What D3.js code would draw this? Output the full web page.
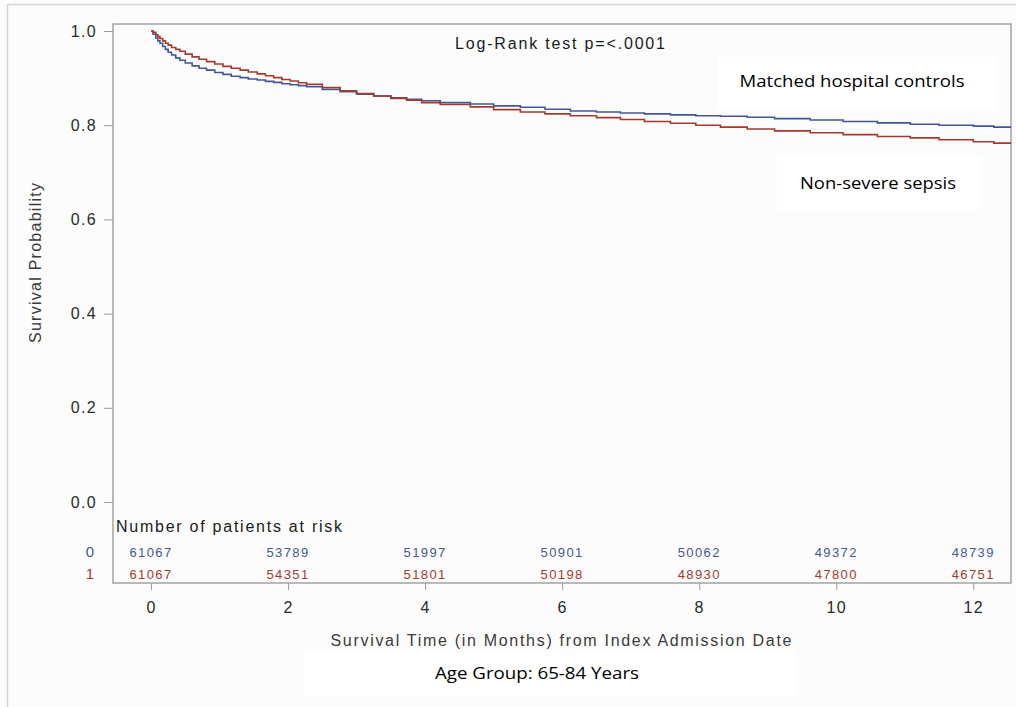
<!DOCTYPE html>
<html>
<head>
<meta charset="utf-8">
<script src="https://cdn.jsdelivr.net/npm/d3@7"></script>
<style>
  html, body { margin: 0; padding: 0; background: #fcfcfc; }
  svg { display: block; }
  text { font-family: "Liberation Sans", Arial, sans-serif; }
  .calibri { font-family: "Open Sans", "Noto Sans", sans-serif; }
</style>
</head>
<body>
<script>
// months since index admission, survival probability
const controlTimes = [0, 0.03, 0.07, 0.1, 0.13, 0.17, 0.21, 0.25, 0.3, 0.36, 0.42, 0.5, 0.6, 0.7, 0.81, 0.93, 1.05, 1.17, 1.3, 1.42, 1.55, 1.67, 1.79, 1.91, 2.03, 2.15, 2.27, 2.5, 2.76, 3.0, 3.25, 3.5, 3.73, 3.95, 4.22, 4.66, 5.0, 5.39, 5.75, 6.12, 6.5, 6.85, 7.2, 7.58, 7.95, 8.31, 8.7, 9.1, 9.62, 10.1, 10.6, 11.08, 11.5, 12.0, 12.3];
const controlSurv = [1.0, 0.993, 0.985, 0.979, 0.974, 0.967, 0.961, 0.955, 0.949, 0.943, 0.938, 0.932, 0.926, 0.921, 0.917, 0.912, 0.908, 0.904, 0.901, 0.898, 0.896, 0.893, 0.891, 0.888, 0.886, 0.884, 0.882, 0.876, 0.871, 0.866, 0.862, 0.858, 0.855, 0.852, 0.848, 0.845, 0.841, 0.838, 0.834, 0.83, 0.828, 0.826, 0.824, 0.822, 0.82, 0.819, 0.817, 0.814, 0.811, 0.808, 0.805, 0.802, 0.8, 0.798, 0.796];
const sepsisTimes = controlTimes;
const sepsisSurv = [1.0, 0.997, 0.992, 0.988, 0.984, 0.979, 0.974, 0.97, 0.965, 0.961, 0.957, 0.951, 0.945, 0.94, 0.935, 0.93, 0.925, 0.921, 0.917, 0.913, 0.909, 0.905, 0.901, 0.897, 0.894, 0.89, 0.887, 0.88, 0.873, 0.867, 0.862, 0.857, 0.853, 0.848, 0.844, 0.839, 0.833, 0.828, 0.824, 0.82, 0.816, 0.812, 0.808, 0.804, 0.8, 0.796, 0.792, 0.788, 0.784, 0.78, 0.776, 0.773, 0.769, 0.765, 0.762];

const xTicks = [0, 2, 4, 6, 8, 10, 12];
const yTicks = [0, 0.2, 0.4, 0.6, 0.8, 1.0];
const atRiskControl = [61067, 53789, 51997, 50901, 50062, 49372, 48739];
const atRiskSepsis = [61067, 54351, 51801, 50198, 48930, 47800, 46751];

const blue = '#445694';
const red = '#a23a2e';

const width = 1016;
const height = 707;
const plot = { left: 113, right: 1011, top: 24, bottom: 583 };

const svg = d3.select('body').append('svg').attr('width', width).attr('height', height);

// outer frame (top + left edges only visible)
svg.append('line').attr('x1', 7.5).attr('x2', width).attr('y1', 4.5).attr('y2', 4.5)
  .attr('stroke', '#d4d4d4').attr('stroke-width', 1.5);
svg.append('line').attr('x1', 7.5).attr('x2', 7.5).attr('y1', 4.5).attr('y2', height)
  .attr('stroke', '#d4d4d4').attr('stroke-width', 1.5);

const x = d3.scaleLinear().domain([-0.555, 12.55]).range([plot.left, plot.right]);
const y = d3.scaleLinear().domain([0, 1]).range([502, 31]);

// white patches behind the pasted annotations
svg.append('rect').attr('x', 718).attr('y', 57).attr('width', 279).attr('height', 53).attr('fill', '#fff');
svg.append('rect').attr('x', 777).attr('y', 157).attr('width', 204).attr('height', 53).attr('fill', '#fff');
svg.append('rect').attr('x', 303).attr('y', 652).attr('width', 492).attr('height', 44).attr('fill', '#fff');

// axes
svg.append('g')
  .attr('transform', `translate(${plot.left},0)`)
  .call(d3.axisLeft(y).tickValues(yTicks).tickSize(9).tickPadding(7).tickFormat(d3.format('.1f')))
  .call(g => g.select('.domain').remove())
  .call(g => g.selectAll('line').attr('stroke', '#9a9a9a'))
  .call(g => g.selectAll('text').attr('font-size', 16).attr('fill', '#2a2a2a')
    .attr('letter-spacing', 1.3).attr('font-family', '"Liberation Sans", Arial, sans-serif'));

svg.append('g')
  .attr('transform', `translate(0,${plot.bottom})`)
  .call(d3.axisBottom(x).tickValues(xTicks).tickSize(7).tickPadding(12).tickFormat(d3.format('d')))
  .call(g => g.select('.domain').remove())
  .call(g => g.selectAll('line').attr('stroke', '#9a9a9a'))
  .call(g => g.selectAll('text').attr('font-size', 16).attr('fill', '#2a2a2a')
    .attr('letter-spacing', 1.3).attr('font-family', '"Liberation Sans", Arial, sans-serif'));

// plot frame
svg.append('rect')
  .attr('x', plot.left).attr('y', plot.top)
  .attr('width', plot.right - plot.left).attr('height', plot.bottom - plot.top)
  .attr('fill', 'none').attr('stroke', '#a8a8a8').attr('stroke-width', 1.6);

// survival curves
const line = d3.line().x(d => x(d[0])).y(d => y(d[1])).curve(d3.curveStepAfter);
function curvePoints(times, surv) {
  const pts = times.map((t, i) => [t, surv[i]]);
  pts.push([x.domain()[1], surv[surv.length - 1]]);
  return pts;
}
svg.append('path').datum(curvePoints(controlTimes, controlSurv))
  .attr('d', line).attr('fill', 'none').attr('stroke', blue).attr('stroke-width', 1.6);
svg.append('path').datum(curvePoints(sepsisTimes, sepsisSurv))
  .attr('d', line).attr('fill', 'none').attr('stroke', red).attr('stroke-width', 1.6);

// at-risk table
svg.append('text').attr('x', 116).attr('y', 532).attr('font-size', 16).attr('fill', '#1a1a1a')
  .attr('textLength', 226).attr('lengthAdjust', 'spacing')
  .text('Number of patients at risk');

const rows = [
  { label: '0', values: atRiskControl, color: blue, y: 552 },
  { label: '1', values: atRiskSepsis, color: red, y: 574 },
];
rows.forEach(r => {
  svg.append('text').attr('x', 90).attr('y', r.y).attr('dy', '0.35em')
    .attr('text-anchor', 'middle').attr('font-size', 15).attr('fill', r.color).text(r.label);
  svg.selectAll(null).data(r.values).enter().append('text')
    .attr('x', (d, i) => x(xTicks[i]))
    .attr('y', r.y).attr('dy', '0.35em')
    .attr('text-anchor', 'middle').attr('font-size', 13).attr('letter-spacing', 1.4)
    .attr('fill', r.color).text(d => d);
});

// axis titles
svg.append('text').attr('x', 561).attr('y', 646).attr('text-anchor', 'middle')
  .attr('font-size', 16).attr('fill', '#3a3a3a').attr('textLength', 461).attr('lengthAdjust', 'spacing')
  .text('Survival Time (in Months) from Index Admission Date');

svg.append('text').attr('transform', 'translate(41,263) rotate(-90)').attr('text-anchor', 'middle')
  .attr('font-size', 16).attr('fill', '#3a3a3a').attr('textLength', 160).attr('lengthAdjust', 'spacing')
  .text('Survival Probability');

svg.append('text').attr('x', 560).attr('y', 49).attr('text-anchor', 'middle')
  .attr('font-size', 16).attr('fill', '#1a1a1a').attr('textLength', 210).attr('lengthAdjust', 'spacing')
  .text('Log-Rank test p=<.0001');

// pasted labels
svg.append('text').attr('class', 'calibri').attr('x', 852).attr('y', 87).attr('text-anchor', 'middle')
  .attr('font-size', 17).attr('fill', '#000').attr('textLength', 225).attr('lengthAdjust', 'spacingAndGlyphs')
  .text('Matched hospital controls');
svg.append('text').attr('class', 'calibri').attr('x', 878).attr('y', 189).attr('text-anchor', 'middle')
  .attr('font-size', 17).attr('fill', '#000').attr('textLength', 156).attr('lengthAdjust', 'spacingAndGlyphs')
  .text('Non-severe sepsis');
svg.append('text').attr('class', 'calibri').attr('x', 537).attr('y', 679).attr('text-anchor', 'middle')
  .attr('font-size', 17).attr('fill', '#000').attr('textLength', 204).attr('lengthAdjust', 'spacingAndGlyphs')
  .text('Age Group: 65-84 Years');
</script>
</body>
</html>
